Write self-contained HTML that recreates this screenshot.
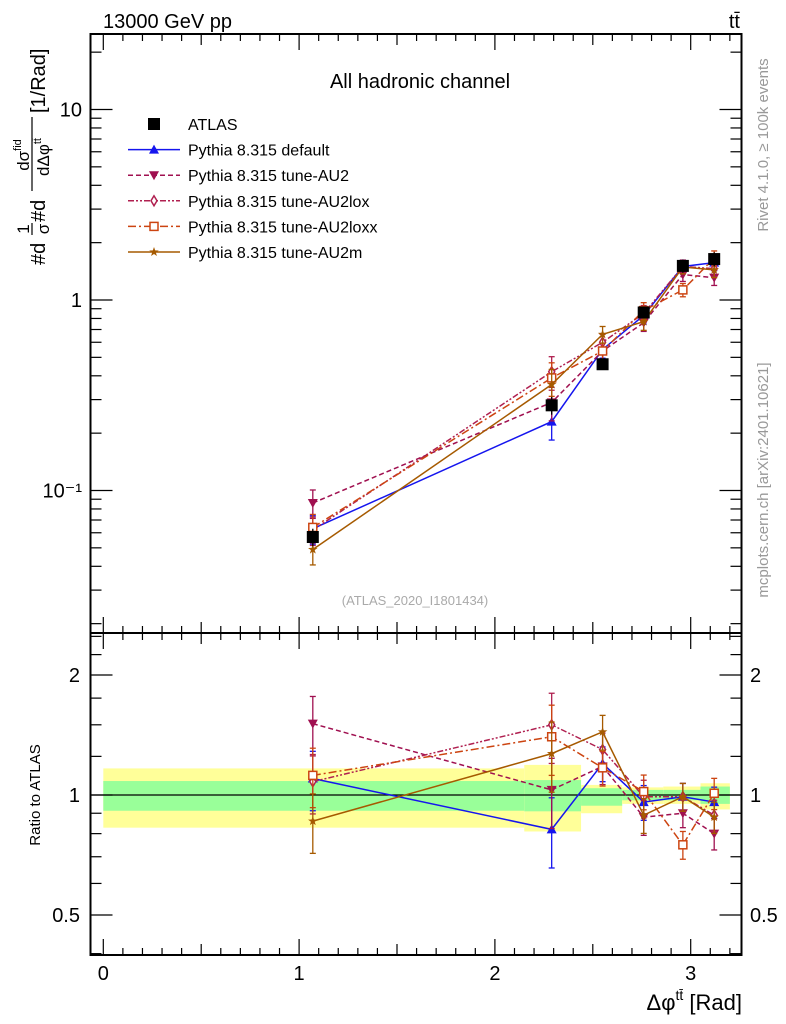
<!DOCTYPE html>
<html><head><meta charset="utf-8"><style>
body{margin:0;background:#fff;}
svg{display:block;font-family:"Liberation Sans",sans-serif;}
</style></head><body>
<svg id="c" width="786" height="1024" viewBox="0 0 786 1024" xmlns="http://www.w3.org/2000/svg">
<rect width="786" height="1024" fill="#fff"/>
<g id="bands"></g>
<g id="axes"></g>
<g id="series"></g>
<text x="103" y="28" font-size="20">13000 GeV pp</text>
<text x="740" y="28" font-size="20" text-anchor="end">tt̄</text>
<text x="420" y="88" font-size="20" text-anchor="middle">All hadronic channel</text>
<text x="415" y="605" font-size="13" fill="#aaa" text-anchor="middle">(ATLAS_2020_I1801434)</text>
<text transform="translate(768,145) rotate(-90)" font-size="15" fill="#999" text-anchor="middle">Rivet 4.1.0, ≥ 100k events</text>
<text transform="translate(768,480) rotate(-90)" font-size="15" fill="#999" text-anchor="middle">mcplots.cern.ch [arXiv:2401.10621]</text>
<g transform="translate(45,265) rotate(-90)">
 <text x="0" y="0" font-size="20">#d</text>
 <text x="36" y="-16" font-size="17" text-anchor="middle">1</text>
 <line x1="30" x2="42" y1="-13" y2="-13" stroke="#000" stroke-width="1.2"/>
 <text x="36" y="4" font-size="17" text-anchor="middle">σ</text>
 <text x="43" y="0" font-size="20">#d</text>
 <text x="110" y="-16" font-size="17" text-anchor="middle">dσ<tspan font-size="11" dy="-8">fid</tspan></text>
 <line x1="74" x2="148" y1="-13" y2="-13" stroke="#000" stroke-width="1.2"/>
 <text x="108" y="4" font-size="17" text-anchor="middle">dΔφ<tspan font-size="11" dy="-8">tt̄</tspan></text>
 <text x="152" y="0" font-size="20">[1/Rad]</text>
</g>
<text transform="translate(40,795) rotate(-90)" font-size="15" text-anchor="middle">Ratio to ATLAS</text>
<text x="742" y="1010" font-size="22" text-anchor="end">Δφ<tspan font-size="14" dy="-10">tt̄</tspan><tspan dy="10"> [Rad]</tspan></text>
<g id="legend"></g>
</svg>
<script>
const xCenters=[1.07,2.29,2.55,2.76,2.96,3.12];
const binEdges=[0,2.15,2.44,2.65,2.86,3.05,3.2];
const atlas=[0.057,0.28,0.46,0.86,1.51,1.64];
const atlasErr=[0.006,0.03,0.03,0.06,0.12,0.14];
const yellowHi=[1.166,1.19,1.06,1.045,1.05,1.07];
const yellowLo=[0.828,0.81,0.9,0.95,0.95,0.92];
const greenHi=[1.084,1.09,1.04,1.03,1.03,1.05];
const greenLo=[0.913,0.91,0.94,0.97,0.97,0.95];
const defMain=[0.063,0.23,0.55,0.83,1.50,1.57];
const au2Main=[0.086,0.29,0.54,0.76,1.36,1.31];
const loxMain=[0.062,0.42,0.60,0.85,1.50,1.46];
const loxxMain=[0.064,0.39,0.54,0.88,1.13,1.66];
const au2mMain=[0.049,0.36,0.66,0.77,1.49,1.44];
const defRatio=[1.10,0.82,1.20,0.96,0.99,0.96];
const au2Ratio=[1.51,1.03,1.18,0.88,0.90,0.80];
const loxRatio=[1.08,1.50,1.30,0.99,0.99,0.89];
const loxxRatio=[1.12,1.40,1.17,1.02,0.75,1.01];
const au2mRatio=[0.86,1.27,1.44,0.89,0.99,0.88];
const relErr=[0.17,0.2,0.1,0.1,0.08,0.09];
const xTicks=[0,1,2,3];
const mainTicks=[0.1,1,10];
const mainTickLabels=["10⁻¹","1","10"];
const ratioTicks=[0.5,1,2];
const ratioTickLabels=["0.5","1","2"];

const NS="http://www.w3.org/2000/svg";
const L=90.5,R=741.5,T=34,MB=633,RB=955;
const X=v=>103.3+195.8*v;
const Ym=v=>300-190.5*Math.log10(v);
const Yr=v=>795-120*Math.log2(v);
function mk(tag,attrs,parent){const e=document.createElementNS(NS,tag);for(const k in attrs)e.setAttribute(k,attrs[k]);parent.appendChild(e);return e;}
const axes=document.getElementById('axes'),bands=document.getElementById('bands'),ser=document.getElementById('series'),leg=document.getElementById('legend');

for(let i=0;i<xCenters.length;i++){
  const x0=X(binEdges[i]),x1=X(binEdges[i+1]);
  const y=mk('rect',{x:x0,y:Yr(yellowHi[i]),width:x1-x0,height:Yr(yellowLo[i])-Yr(yellowHi[i]),fill:'#ffff99'},bands);
  
  
  const g=mk('rect',{x:x0,y:Yr(greenHi[i]),width:x1-x0,height:Yr(greenLo[i])-Yr(greenHi[i]),fill:'#99ff99'},bands);
  
  
}
const one=mk('line',{x1:L,x2:R,y1:Yr(1),y2:Yr(1),stroke:'#000','stroke-width':1.3},bands);



for(const [t,b,nm] of [[T,MB,'main-frame'],[MB,RB,'ratio-frame']]){
  const f=mk('rect',{x:L,y:t,width:R-L,height:b-t,fill:'none',stroke:'#000','stroke-width':2},axes);
  
  
}
for(let v=0;v<=3.2001;v+=0.1){
  const r=Math.round(v*10);const len=r%10===0?16:(r%5===0?11:7);
  for(const [t,b] of [[T,MB],[MB,RB]]){
    mk('line',{x1:X(v),x2:X(v),y1:b,y2:b-len,stroke:'#000','stroke-width':1.2},axes);
    mk('line',{x1:X(v),x2:X(v),y1:t,y2:t+len,stroke:'#000','stroke-width':1.2},axes);
  }
}
xTicks.forEach(v=>{const t=mk('text',{x:X(v),y:980,'font-size':20,'text-anchor':'middle'},axes);t.textContent=v;

});
for(let d=-2;d<=1;d++)for(let m=1;m<=9;m++){const v=m*Math.pow(10,d);const y=Ym(v);if(y<T||y>MB)continue;const len=m===1?22:11;
  mk('line',{x1:L,x2:L+len,y1:y,y2:y,stroke:'#000','stroke-width':1.2},axes);
  mk('line',{x1:R,x2:R-len,y1:y,y2:y,stroke:'#000','stroke-width':1.2},axes);}
mainTicks.forEach((v,i)=>{const t=mk('text',{x:82,y:Ym(v)+7,'font-size':20,'text-anchor':'end'},axes);t.textContent=mainTickLabels[i];

});
[0.4,0.6,0.7,0.8,0.9,1.25,1.5,1.75,2.25,2.5].forEach(v=>{const y=Yr(v);
  mk('line',{x1:L,x2:L+11,y1:y,y2:y,stroke:'#000','stroke-width':1.2},axes);
  mk('line',{x1:R,x2:R-11,y1:y,y2:y,stroke:'#000','stroke-width':1.2},axes);});
ratioTicks.forEach((v,i)=>{const y=Yr(v);
  mk('line',{x1:L,x2:L+22,y1:y,y2:y,stroke:'#000','stroke-width':1.2},axes);
  mk('line',{x1:R,x2:R-22,y1:y,y2:y,stroke:'#000','stroke-width':1.2},axes);
  const t=mk('text',{x:80,y:y+7,'font-size':20,'text-anchor':'end'},axes);t.textContent=ratioTickLabels[i];
  
  
  const t2=mk('text',{x:750,y:y+7,'font-size':20},axes);t2.textContent=ratioTickLabels[i];
  
  });

function marker(type,x,y,c,g,s){
  s=s||6;
  if(type==='sq') mk('rect',{x:x-s,y:y-s,width:2*s,height:2*s,fill:'#000'},g);
  else if(type==='tri') mk('polygon',{points:`${x},${y-s} ${x-s},${y+s*0.8} ${x+s},${y+s*0.8}`,fill:c},g);
  else if(type==='tridown') mk('polygon',{points:`${x},${y+s} ${x-s},${y-s*0.8} ${x+s},${y-s*0.8}`,fill:c},g);
  else if(type==='dia') mk('polygon',{points:`${x},${y-s} ${x-s*0.6},${y} ${x},${y+s} ${x+s*0.6},${y}`,fill:'#fff',stroke:c,'stroke-width':1.5},g);
  else if(type==='osq') mk('rect',{x:x-s+1,y:y-s+1,width:2*s-2,height:2*s-2,fill:'#fff',stroke:c,'stroke-width':1.5},g);
  else if(type==='star'){let p=[];for(let k=0;k<10;k++){const r=k%2?s*0.4:s;const a=-Math.PI/2+k*Math.PI/5;p.push((x+r*Math.cos(a))+','+(y+r*Math.sin(a)));}mk('polygon',{points:p.join(' '),fill:c},g);}
}
const series=[
 {name:'pythia-default',label:'Pythia 8.315 default',c:'#1515ee',dash:'',m:'tri',main:defMain,ratio:defRatio},
 {name:'pythia-au2',label:'Pythia 8.315 tune-AU2',c:'#a01050',dash:'5,3',m:'tridown',main:au2Main,ratio:au2Ratio},
 {name:'pythia-au2lox',label:'Pythia 8.315 tune-AU2lox',c:'#b02050',dash:'6,2,2,2,2,2',m:'dia',main:loxMain,ratio:loxRatio},
 {name:'pythia-au2loxx',label:'Pythia 8.315 tune-AU2loxx',c:'#cc4411',dash:'8,3,2,3',m:'osq',main:loxxMain,ratio:loxxRatio},
 {name:'pythia-au2m',label:'Pythia 8.315 tune-AU2m',c:'#a65a00',dash:'',m:'star',main:au2mMain,ratio:au2mRatio},
];
series.forEach(s=>{
  const g=mk('g',{},ser);
  
  
  for(const [vals,Y] of [[s.main,Ym],[s.ratio,Yr]]){
    mk('polyline',{points:xCenters.map((x,i)=>X(x)+','+Y(vals[i])).join(' '),fill:'none',stroke:s.c,'stroke-width':1.5,'stroke-dasharray':s.dash},g);
    xCenters.forEach((x,i)=>{const hi=Y(vals[i]*(1+relErr[i])),lo=Y(vals[i]*(1-relErr[i]));
      mk('line',{x1:X(x),x2:X(x),y1:hi,y2:lo,stroke:s.c,'stroke-width':1.3},g);
      mk('line',{x1:X(x)-3,x2:X(x)+3,y1:hi,y2:hi,stroke:s.c,'stroke-width':1.3},g);
      mk('line',{x1:X(x)-3,x2:X(x)+3,y1:lo,y2:lo,stroke:s.c,'stroke-width':1.3},g);
      marker(s.m,X(x),Y(vals[i]),s.c,g,5);});
  }
});
const ga=mk('g',{},ser);


xCenters.forEach((x,i)=>{mk('line',{x1:X(x),x2:X(x),y1:Ym(atlas[i]+atlasErr[i]),y2:Ym(atlas[i]-atlasErr[i]),stroke:'#000','stroke-width':1.3},ga);marker('sq',X(x),Ym(atlas[i]),'#000',ga,6);});
const rows=[{label:'ATLAS',m:'sq',c:'#000',dash:null}].concat(series);
rows.forEach((s,i)=>{const y=124+i*25.6;
  const g=mk('g',{},leg);
  
  
  if(s.dash!==null) mk('line',{x1:128,x2:180,y1:y,y2:y,stroke:s.c,'stroke-width':1.5,'stroke-dasharray':s.dash},g);
  marker(s.m,154,y,s.c,g,s.m==='sq'?6:5);
  const t=mk('text',{x:188,y:y+6,'font-size':16},g);t.textContent=s.label;});
</script>
</body></html>
